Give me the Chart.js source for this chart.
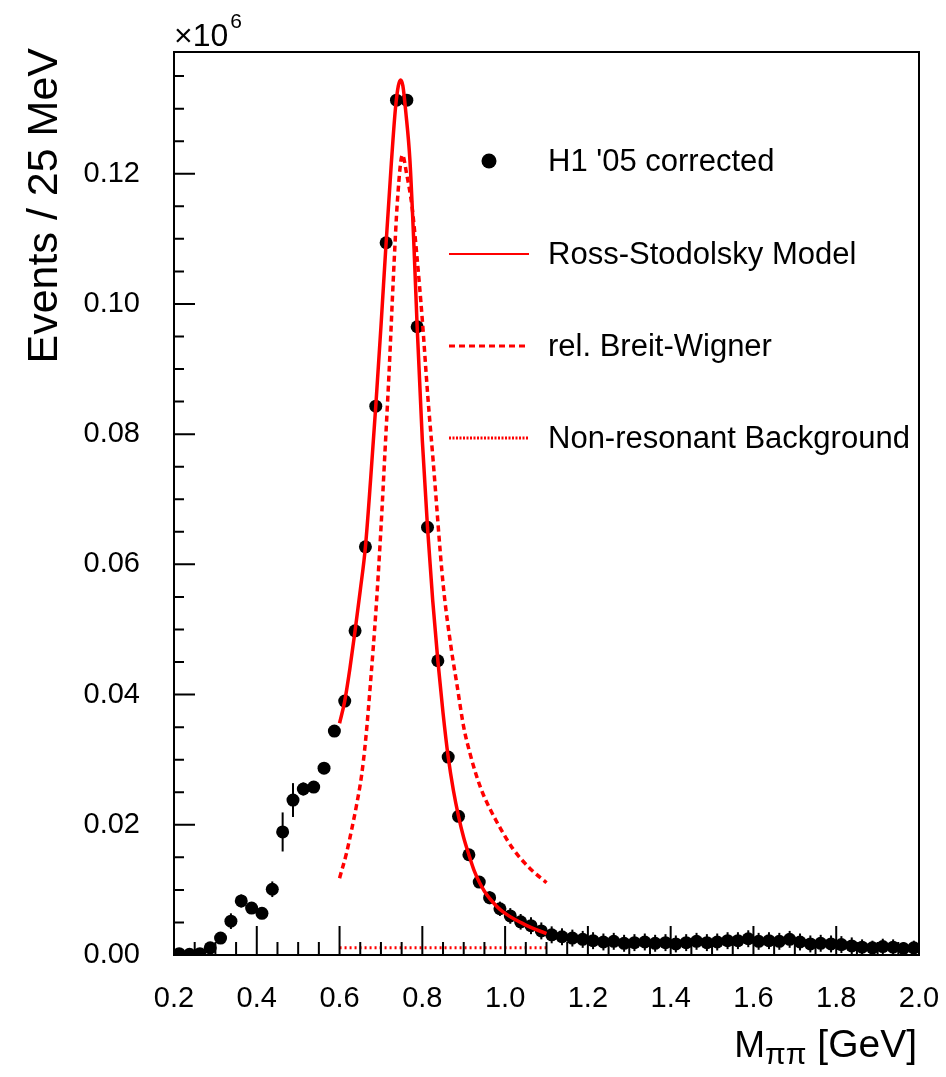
<!DOCTYPE html>
<html>
<head>
<meta charset="utf-8">
<script src="https://cdn.jsdelivr.net/npm/chart.js@4.4.0/dist/chart.umd.min.js"></script>
<style>
html, body { margin: 0; padding: 0; background: #fff; }
#wrap { width: 946px; height: 1077px; }
</style>
</head>
<body>
<div id="wrap"><canvas id="chart" width="946" height="1077"></canvas></div>
<script>
// H1 '05 corrected: pi+pi- mass spectrum, 25 MeV bins (units of 10^6 events)
const massBins = [
  0.2125, 0.2375, 0.2625, 0.2875, 0.3125, 0.3375, 0.3625, 0.3875, 0.4125, 0.4375,
  0.4625, 0.4875, 0.5125, 0.5375, 0.5625, 0.5875, 0.6125, 0.6375, 0.6625, 0.6875,
  0.7125, 0.7375, 0.7625, 0.7875, 0.8125, 0.8375, 0.8625, 0.8875, 0.9125, 0.9375,
  0.9625, 0.9875, 1.0125, 1.0375, 1.0625, 1.0875, 1.1125, 1.1375, 1.1625, 1.1875,
  1.2125, 1.2375, 1.2625, 1.2875, 1.3125, 1.3375, 1.3625, 1.3875, 1.4125, 1.4375,
  1.4625, 1.4875, 1.5125, 1.5375, 1.5625, 1.5875, 1.6125, 1.6375, 1.6625, 1.6875,
  1.7125, 1.7375, 1.7625, 1.7875, 1.8125, 1.8375, 1.8625, 1.8875, 1.9125, 1.9375,
  1.9625, 1.9875
];
const events = [
  0.0002, 0.0001, 0.0002, 0.0011, 0.0026, 0.0052, 0.0083, 0.0072, 0.0064, 0.0101,
  0.0189, 0.0238, 0.0255, 0.0258, 0.0287, 0.0344, 0.0390, 0.0498, 0.0627, 0.0843,
  0.1094, 0.1313, 0.1313, 0.0965, 0.0657, 0.0452, 0.0304, 0.0213, 0.0154, 0.0112,
  0.0088, 0.0071, 0.0060, 0.0051, 0.0045, 0.0037, 0.0031, 0.0028, 0.0026, 0.0024,
  0.0022, 0.0020, 0.0021, 0.0018, 0.0019, 0.0020, 0.0018, 0.0019, 0.0017, 0.0019,
  0.0021, 0.0019, 0.0020, 0.0022, 0.0022, 0.0025, 0.0021, 0.0022, 0.0021, 0.0024,
  0.0020, 0.0017, 0.0018, 0.0017, 0.0016, 0.0014, 0.0012, 0.0011, 0.0013, 0.0012,
  0.0010, 0.0011
];
const eventErrors = [
  0.0002, 0.0002, 0.0002, 0.0004, 0.0006, 0.0012, 0.0010, 0.0008, 0.0008, 0.0012,
  0.0030, 0.0026, 0.0010, 0.0008, 0.0008, 0.0008, 0.0008, 0.0008, 0.0008, 0.0008,
  0.0008, 0.0008, 0.0008, 0.0008, 0.0008, 0.0008, 0.0008, 0.0008, 0.0008, 0.0009,
  0.0010, 0.0011, 0.0012, 0.0012, 0.0013, 0.0013, 0.0013, 0.0013, 0.0013, 0.0013,
  0.0013, 0.0013, 0.0013, 0.0013, 0.0013, 0.0013, 0.0013, 0.0013, 0.0013, 0.0013,
  0.0013, 0.0013, 0.0013, 0.0013, 0.0013, 0.0013, 0.0013, 0.0013, 0.0013, 0.0013,
  0.0013, 0.0013, 0.0013, 0.0013, 0.0013, 0.0013, 0.0012, 0.0011, 0.0012, 0.0012,
  0.0010, 0.0011
];

// Ross-Stodolsky fit (solid)
const rsMass = [0.600, 0.6125, 0.625, 0.6375, 0.650, 0.6625, 0.675, 0.6875, 0.700, 0.7125,
  0.725, 0.735, 0.742, 0.7476, 0.753, 0.760, 0.770, 0.780, 0.7875, 0.800,
  0.8125, 0.825, 0.8375, 0.850, 0.8625, 0.875, 0.8875, 0.900, 0.9125, 0.925,
  0.9375, 0.950, 0.9625, 0.975, 0.9875, 1.000, 1.025, 1.050, 1.075, 1.100];
const rsValue = [0.0356, 0.0390, 0.0440, 0.0498, 0.0560, 0.0627, 0.0730, 0.0843, 0.0965, 0.1094,
  0.1215, 0.1300, 0.1335, 0.1344, 0.1335, 0.1295, 0.1221, 0.1085, 0.0965, 0.0790,
  0.0657, 0.0545, 0.0452, 0.0372, 0.0304, 0.0253, 0.0213, 0.0180, 0.0154, 0.0130,
  0.0112, 0.0098, 0.0087, 0.0078, 0.0070, 0.0064, 0.0054, 0.0046, 0.0039, 0.0033];

// relativistic Breit-Wigner (dashed)
const bwMass = [0.600, 0.617, 0.629, 0.641, 0.653, 0.663, 0.675, 0.688, 0.700, 0.710,
  0.720, 0.730, 0.740, 0.752, 0.762, 0.775, 0.786, 0.800, 0.813, 0.826,
  0.850, 0.870, 0.883, 0.900, 0.915, 0.930, 0.945, 0.963, 0.990, 1.019,
  1.060, 1.100];
const bwValue = [0.0118, 0.0157, 0.0192, 0.0230, 0.0275, 0.0330, 0.0420, 0.0530, 0.0655, 0.0776,
  0.0900, 0.1040, 0.1160, 0.1229, 0.1200, 0.1150, 0.1080, 0.0975, 0.0860, 0.0760,
  0.0571, 0.0470, 0.0418, 0.0350, 0.0310, 0.0277, 0.0250, 0.0225, 0.0193, 0.0163,
  0.0133, 0.0111];

// non-resonant background (dotted)
const bgMass = [0.600, 1.100];
const bgValue = [0.0011, 0.0011];

const xTicks = [0.2, 0.4, 0.6, 0.8, 1.0, 1.2, 1.4, 1.6, 1.8, 2.0];
const yTicks = [0.00, 0.02, 0.04, 0.06, 0.08, 0.10, 0.12];

const legendLabels = ["H1 '05 corrected", "Ross-Stodolsky Model", "rel. Breit-Wigner", "Non-resonant Background"];

const FONT = "'Liberation Sans', Arial, Helvetica, sans-serif";
const RED = '#ff0000';

function pts(xs, ys) {
  return xs.map((x, i) => ({ x: x, y: ys[i] }));
}

const rootStyle = {
  id: 'rootStyle',
  beforeDatasetsDraw(chart) {
    const ctx = chart.ctx, xs = chart.scales.x, ys = chart.scales.y;
    ctx.save();
    ctx.strokeStyle = '#000';
    ctx.lineWidth = 2;
    massBins.forEach((m, i) => {
      const px = xs.getPixelForValue(m);
      ctx.beginPath();
      ctx.moveTo(px, Math.min(ys.getPixelForValue(events[i] - eventErrors[i]), ys.bottom));
      ctx.lineTo(px, ys.getPixelForValue(events[i] + eventErrors[i]));
      ctx.stroke();
    });
    ctx.restore();
  },
  afterDraw(chart) {
    const ctx = chart.ctx, a = chart.chartArea;
    const xs = chart.scales.x, ys = chart.scales.y;
    ctx.save();
    ctx.strokeStyle = '#000';
    ctx.lineWidth = 2;
    ctx.strokeRect(a.left, a.top, a.right - a.left, a.bottom - a.top);

    // inward ticks
    ctx.beginPath();
    for (let k = 0; k <= 27; k++) {
      const py = ys.getPixelForValue(k * 0.005);
      if (py < a.top) break;
      const len = k % 4 === 0 ? 21 : 10;
      ctx.moveTo(a.left, py);
      ctx.lineTo(a.left + len, py);
    }
    for (let k = 0; k <= 36; k++) {
      const px = xs.getPixelForValue(0.2 + k * 0.05);
      const len = k % 4 === 0 ? 29 : 13;
      ctx.moveTo(px, a.bottom);
      ctx.lineTo(px, a.bottom - len);
    }
    ctx.stroke();

    ctx.fillStyle = '#000';
    // exponent
    ctx.font = '32px ' + FONT;
    ctx.textAlign = 'left';
    ctx.textBaseline = 'alphabetic';
    ctx.fillText('\u00d710', a.left, 46);
    const ew = ctx.measureText('\u00d710').width;
    ctx.font = '21px ' + FONT;
    ctx.fillText('6', a.left + ew + 2, 28);

    // y title
    ctx.save();
    ctx.translate(57, 48);
    ctx.rotate(-Math.PI / 2);
    ctx.font = '43px ' + FONT;
    ctx.textAlign = 'right';
    ctx.fillText('Events / 25 MeV', 0, 0);
    ctx.restore();

    // x title
    ctx.font = '37px ' + FONT;
    const wM = ctx.measureText('M').width;
    ctx.font = '39px ' + FONT;
    const wG = ctx.measureText(' [GeV]').width;
    ctx.font = '30px ' + FONT;
    const wP = ctx.measureText('\u03c0\u03c0').width;
    const x0 = 917 - (wM + wP + wG);
    ctx.font = '37px ' + FONT;
    ctx.fillText('M', x0, 1057);
    ctx.font = '30px ' + FONT;
    ctx.fillText('\u03c0\u03c0', x0 + wM, 1064);
    ctx.font = '39px ' + FONT;
    ctx.fillText(' [GeV]', x0 + wM + wP, 1057);

    // legend
    ctx.font = '31px ' + FONT;
    ctx.textBaseline = 'middle';
    const rows = [161, 254, 346, 438];
    ctx.beginPath();
    ctx.arc(489, rows[0], 7.5, 0, Math.PI * 2);
    ctx.fill();
    ctx.strokeStyle = RED;
    ctx.lineWidth = 2;
    ctx.beginPath();
    ctx.moveTo(449, rows[1]); ctx.lineTo(529, rows[1]);
    ctx.stroke();
    ctx.lineWidth = 3;
    ctx.setLineDash([6, 4]);
    ctx.beginPath();
    ctx.moveTo(449, rows[2]); ctx.lineTo(529, rows[2]);
    ctx.stroke();
    ctx.setLineDash([2, 1.5]);
    ctx.beginPath();
    ctx.moveTo(449, rows[3]); ctx.lineTo(529, rows[3]);
    ctx.stroke();
    ctx.setLineDash([]);
    legendLabels.forEach((t, i) => ctx.fillText(t, 548, rows[i] + 1));
    ctx.restore();
  }
};

new Chart(document.getElementById('chart'), {
  type: 'scatter',
  data: {
    datasets: [
      {
        label: legendLabels[1],
        data: pts(rsMass, rsValue),
        showLine: true,
        borderColor: RED,
        borderWidth: 3.5,
        pointRadius: 0,
        cubicInterpolationMode: 'monotone',
        order: 1
      },
      {
        label: legendLabels[2],
        data: pts(bwMass, bwValue),
        showLine: true,
        borderColor: RED,
        borderWidth: 3.5,
        borderDash: [6, 4],
        pointRadius: 0,
        cubicInterpolationMode: 'monotone',
        order: 2
      },
      {
        label: legendLabels[3],
        data: pts(bgMass, bgValue),
        showLine: true,
        borderColor: RED,
        borderWidth: 3,
        borderDash: [2, 3],
        pointRadius: 0,
        order: 3
      },
      {
        label: legendLabels[0],
        data: pts(massBins, events),
        showLine: false,
        pointRadius: 6.5,
        pointBorderWidth: 0,
        backgroundColor: '#000',
        order: 4
      }
    ]
  },
  options: {
    responsive: false,
    animation: false,
    devicePixelRatio: 1,
    layout: { padding: { top: 52, right: 27, left: 0, bottom: 0 } },
    scales: {
      x: {
        type: 'linear',
        min: 0.2,
        max: 2.0,
        afterBuildTicks: s => { s.ticks = xTicks.map(v => ({ value: v })); },
        afterFit: s => { s.height = 122; s.paddingLeft = 0; s.paddingRight = 0; },
        grid: { display: false, drawTicks: false },
        border: { display: false },
        ticks: {
          callback: v => v.toFixed(1),
          color: '#000',
          font: { family: FONT, size: 29 },
          padding: 27,
          maxRotation: 0,
          autoSkip: false
        }
      },
      y: {
        type: 'linear',
        min: 0,
        max: 0.1387,
        afterBuildTicks: s => { s.ticks = yTicks.map(v => ({ value: v })); },
        afterFit: s => { s.width = 174; s.paddingTop = 0; s.paddingBottom = 0; },
        grid: { display: false, drawTicks: false },
        border: { display: false },
        ticks: {
          callback: v => v.toFixed(2),
          color: '#000',
          font: { family: FONT, size: 29 },
          padding: 34,
          autoSkip: false
        }
      }
    },
    plugins: {
      legend: { display: false },
      tooltip: { enabled: false }
    }
  },
  plugins: [rootStyle]
});
</script>
</body>
</html>
